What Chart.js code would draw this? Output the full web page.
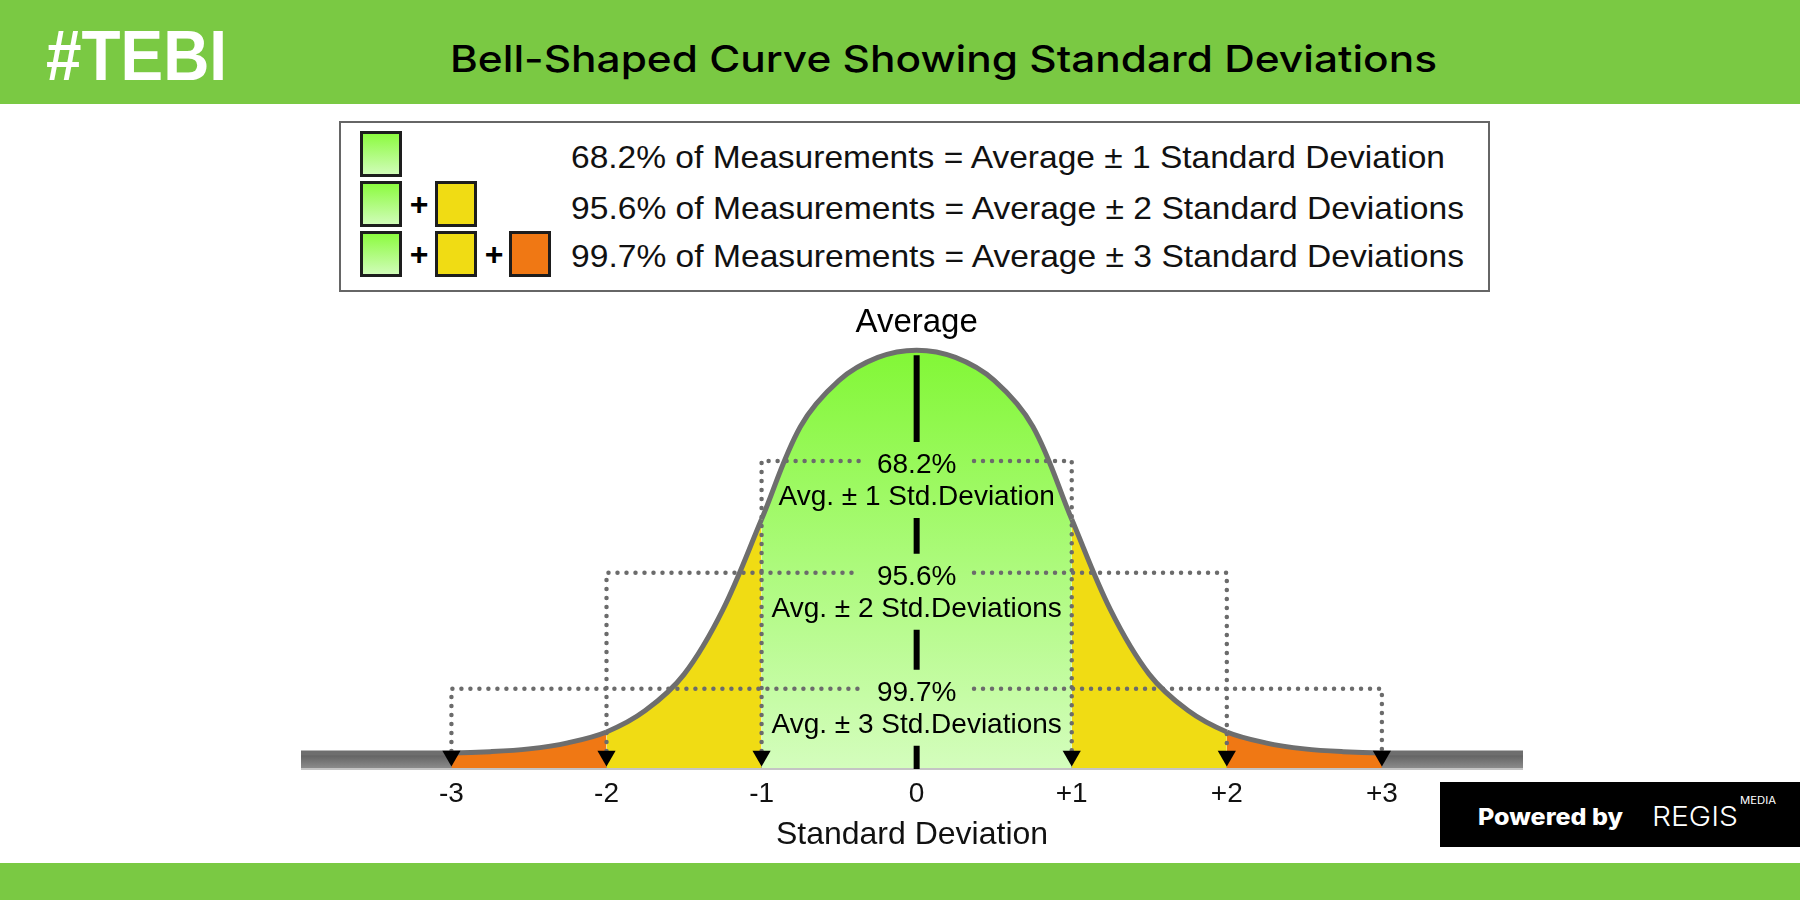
<!DOCTYPE html>
<html>
<head>
<meta charset="utf-8">
<script src="https://cdn.jsdelivr.net/npm/chart.js@4.4.1/dist/chart.umd.min.js"></script>
<style>
  body { margin: 0; width: 1800px; height: 900px; position: relative; overflow: hidden; background: #fff;
         font-family: "Liberation Sans", Arial, sans-serif; }
  canvas { position: absolute; left: 0; top: 0; }
  .band { position: absolute; left: 0; width: 1800px; background: #7ac943; }
  .fit { position: absolute; white-space: nowrap; transform-origin: 0 0; }
  #tag { left: 46px; top: 21px; font: bold 70px/70px "Liberation Sans", Arial, sans-serif; color: #fff; }
  #title { left: 450px; top: 40px; font: 500 37px/37px Inter, sans-serif; color: #000; }
  #legend { position: absolute; left: 339px; top: 121px; width: 1151px; height: 171px;
            border: 2px solid #666; box-sizing: border-box; }
  .sw { position: absolute; width: 42px; height: 46px; border: 3px solid #1d1d1d; box-sizing: border-box; }
  .g { background: linear-gradient(#8cfb40, #d0fcb8); }
  .y { background: #f0dc14; }
  .o { background: #f07814; }
  .plus { position: absolute; width: 24px; margin-left: -12px; text-align: center;
          font: bold 32px/32px "Liberation Sans", Arial, sans-serif; color: #000; }
  .row { font: 32px/32px "Liberation Sans", Arial, sans-serif; color: #111; left: 571px; }
  #powered { position: absolute; left: 1440px; top: 782px; width: 360px; height: 65px; background: #000; }
  #pw { left: 1478px; top: 806px; font: 800 23px/23px Inter, sans-serif; color: #fff; }
  #regis { left: 1652px; top: 803px; font: 300 27px/27px Inter, sans-serif; color: #fff; }
  #media { left: 1740px; top: 795px; font: 400 10px/10px Inter, sans-serif; color: #fff; }
</style>
</head>
<body>
<div class="band" style="top:0;height:104px"></div>
<div class="band" style="top:863px;height:37px"></div>
<div id="tag" class="fit">#TEBI</div>
<div id="title" class="fit">Bell-Shaped Curve Showing Standard Deviations</div>

<div id="legend"></div>
<div class="sw g" style="left:360px;top:131px"></div>
<div class="sw g" style="left:360px;top:181px"></div>
<div class="plus" style="left:419px;top:188px">+</div>
<div class="sw y" style="left:435px;top:181px"></div>
<div class="sw g" style="left:360px;top:231px"></div>
<div class="plus" style="left:419px;top:238px">+</div>
<div class="sw y" style="left:435px;top:231px"></div>
<div class="plus" style="left:494px;top:238px">+</div>
<div class="sw o" style="left:509px;top:231px"></div>
<div id="row1" class="fit row" style="top:141px">68.2% of Measurements = Average ± 1 Standard Deviation</div>
<div id="row2" class="fit row" style="top:192px">95.6% of Measurements = Average ± 2 Standard Deviations</div>
<div id="row3" class="fit row" style="top:240px">99.7% of Measurements = Average ± 3 Standard Deviations</div>

<canvas id="bell" width="1800" height="900"></canvas>

<div id="powered"></div>
<div id="pw" class="fit">Powered by</div>
<div id="regis" class="fit">REGIS</div>
<div id="media" class="fit">MEDIA</div>

<script>
// ---- data (x in standard deviations, y relative to peak) ----
const sdTicks  = [-3, -2, -1, 0, 1, 2, 3];
const curveX   = [-3.97, -3.5, -3, -2.75, -2.5, -2.25, -2, -1.75, -1.5, -1.25, -1, -0.75, -0.5, -0.25, 0,
                  0.25, 0.5, 0.75, 1, 1.25, 1.5, 1.75, 2, 2.25, 2.5, 2.75, 3, 3.5, 3.91];
const curveY   = [0, 0, 0, 0.003, 0.010, 0.025, 0.052, 0.105, 0.195, 0.355, 0.58, 0.81, 0.925, 0.982, 1.0,
                  0.982, 0.925, 0.81, 0.58, 0.355, 0.195, 0.105, 0.052, 0.025, 0.010, 0.003, 0, 0, 0];
const bandX    = [-3.97, 3.91];
const markerX  = [-3, -2, -1, 1, 2, 3];
const levelSD  = [1, 2, 3];
const levelPct = ['68.2%', '95.6%', '99.7%'];
const levelTxt = ['Avg. ± 1 Std.Deviation', 'Avg. ± 2 Std.Deviations', 'Avg. ± 3 Std.Deviations'];

// ---- look ----
const FONT = '"Liberation Sans", Arial, sans-serif';
const YELLOW = '#f0dc14';
const ORANGE = '#f07814';
const LEVEL_Y = [0.725, 0.447, 0.159];   // heights of the dotted brackets
const TEXT_GAP = 0.37;                     // half width of the gap left for the labels
const BAND_TOP = 0.005;
const MARKER_Y = -0.0075;

function fitWidth(id, w) {
  const el = document.getElementById(id);
  el.style.transform = `scaleX(${w / el.getBoundingClientRect().width})`;
}
fitWidth('tag', 181);
fitWidth('title', 987);
fitWidth('row1', 874);
fitWidth('row2', 893);
fitWidth('row3', 893);
fitWidth('pw', 145);
fitWidth('regis', 86);
fitWidth('media', 36);

// one gradient object, so the filler keeps the green zone as a single segment
let greenCache = null;
function greenFill(chart) {
  const { ctx, chartArea, scales } = chart;
  if (!chartArea) return '#a8fa80';
  const top = scales.y.getPixelForValue(1);
  const key = top + ':' + chartArea.bottom;
  if (!greenCache || greenCache.key !== key) {
    const g = ctx.createLinearGradient(0, top, 0, chartArea.bottom);
    g.addColorStop(0, '#82f736');
    g.addColorStop(1, '#d4fdbd');
    greenCache = { key, g };
  }
  return greenCache.g;
}

function zoneColor(c) {
  const m = Math.max(Math.abs(c.p0.parsed.x), Math.abs(c.p1.parsed.x));
  if (m <= 1) return greenFill(c.chart);
  if (m <= 2) return YELLOW;
  if (m <= 3) return ORANGE;
  return 'rgba(0,0,0,0)';
}

const guides = {
  id: 'guides',
  // dotted brackets: after the fill, before the curve stroke
  beforeDatasetDraw(chart, args) {
    if (args.index !== 0) return;
    const { ctx, scales: { x, y } } = chart;
    const foot = y.getPixelForValue(BAND_TOP);
    ctx.save();
    ctx.strokeStyle = '#6b6b6b';
    ctx.lineWidth = 4.5;
    ctx.lineCap = 'round';
    ctx.setLineDash([0, 9]);
    levelSD.forEach((sd, i) => {
      const yy = y.getPixelForValue(LEVEL_Y[i]);
      ctx.beginPath();
      ctx.moveTo(x.getPixelForValue(-sd), foot);
      ctx.lineTo(x.getPixelForValue(-sd), yy);
      ctx.lineTo(x.getPixelForValue(-TEXT_GAP), yy);
      ctx.stroke();
      ctx.beginPath();
      ctx.moveTo(x.getPixelForValue(TEXT_GAP), yy);
      ctx.lineTo(x.getPixelForValue(sd), yy);
      ctx.lineTo(x.getPixelForValue(sd), foot);
      ctx.stroke();
    });
    ctx.restore();
  },
  afterDatasetsDraw(chart) {
    const { ctx, chartArea, scales: { x, y } } = chart;
    const cx = x.getPixelForValue(0);
    const peak = y.getPixelForValue(Math.max(...curveY));
    ctx.save();
    // thin light edge under the grey band
    ctx.strokeStyle = '#c4c4c4';
    ctx.lineWidth = 2;
    ctx.beginPath();
    ctx.moveTo(x.getPixelForValue(bandX[0]), chartArea.bottom);
    ctx.lineTo(x.getPixelForValue(bandX[1]), chartArea.bottom);
    ctx.stroke();
    // centre line, broken where the labels sit
    ctx.strokeStyle = '#000';
    ctx.lineWidth = 6;
    ctx.beginPath();
    let top = peak + 5;
    LEVEL_Y.forEach(v => {
      const p = y.getPixelForValue(v);
      ctx.moveTo(cx, top);
      ctx.lineTo(cx, p - 19);
      top = p + 57;
    });
    ctx.moveTo(cx, top);
    ctx.lineTo(cx, chartArea.bottom);
    ctx.stroke();
    // labels
    ctx.fillStyle = '#000';
    ctx.textAlign = 'center';
    ctx.textBaseline = 'alphabetic';
    ctx.font = `33px ${FONT}`;
    ctx.fillText('Average', cx, peak - 18);
    ctx.font = `28px ${FONT}`;
    LEVEL_Y.forEach((v, i) => {
      const p = y.getPixelForValue(v);
      ctx.fillText(levelPct[i], cx, p + 12);
      ctx.fillText(levelTxt[i], cx, p + 44);
    });
    ctx.restore();
  }
};

new Chart(document.getElementById('bell'), {
  type: 'line',
  data: {
    datasets: [
      {
        label: 'curve',
        data: curveX.map((v, i) => ({ x: v, y: curveY[i] })),
        borderColor: '#6e6e6e',
        borderWidth: 5,
        backgroundColor: 'rgba(0,0,0,0)',
        fill: 'start',
        tension: 0.35,
        pointRadius: 0,
        segment: { backgroundColor: zoneColor },
        order: 2,
      },
      {
        label: 'markers',
        data: markerX.map(v => ({ x: v, y: MARKER_Y })),
        showLine: false,
        pointStyle: 'triangle',
        rotation: 180,
        pointRadius: 10.5,
        pointBackgroundColor: '#000',
        pointBorderColor: '#000',
        pointBorderWidth: 0,
        order: 0,
      },
      {
        label: 'band',
        data: bandX.map(v => ({ x: v, y: BAND_TOP })),
        borderWidth: 0,
        pointRadius: 0,
        fill: 'start',
        backgroundColor: c => {
          const { ctx, chartArea, scales } = c.chart;
          if (!chartArea) return '#6e6e6e';
          const g = ctx.createLinearGradient(0, scales.y.getPixelForValue(BAND_TOP), 0, chartArea.bottom);
          g.addColorStop(0, '#4c4c4c');
          g.addColorStop(0.3, '#666666');
          g.addColorStop(1, '#8e8e8e');
          return g;
        },
        order: 3,
      },
    ]
  },
  options: {
    responsive: false,
    animation: false,
    events: [],
    layout: { padding: { left: 301, right: 277, top: 326, bottom: 0 } },
    plugins: { legend: { display: false }, tooltip: { enabled: false } },
    scales: {
      x: {
        type: 'linear',
        min: -3.97,
        max: 3.91,
        afterBuildTicks: s => { s.ticks = sdTicks.map(v => ({ value: v })); },
        afterFit: s => { s.height = 131; },
        grid: { display: false, drawTicks: false },
        border: { display: false },
        ticks: {
          padding: 8,
          color: '#111',
          font: { family: FONT, size: 28 },
          callback: v => (v > 0 ? '+' + v : String(v)),
        },
        title: {
          display: true,
          text: 'Standard Deviation',
          color: '#111',
          font: { family: FONT, size: 32 },
          padding: { top: 0, bottom: 46 },
        },
      },
      y: { display: false, min: -0.04, max: 1.06 },
    },
  },
  plugins: [guides],
});
</script>
</body>
</html>
